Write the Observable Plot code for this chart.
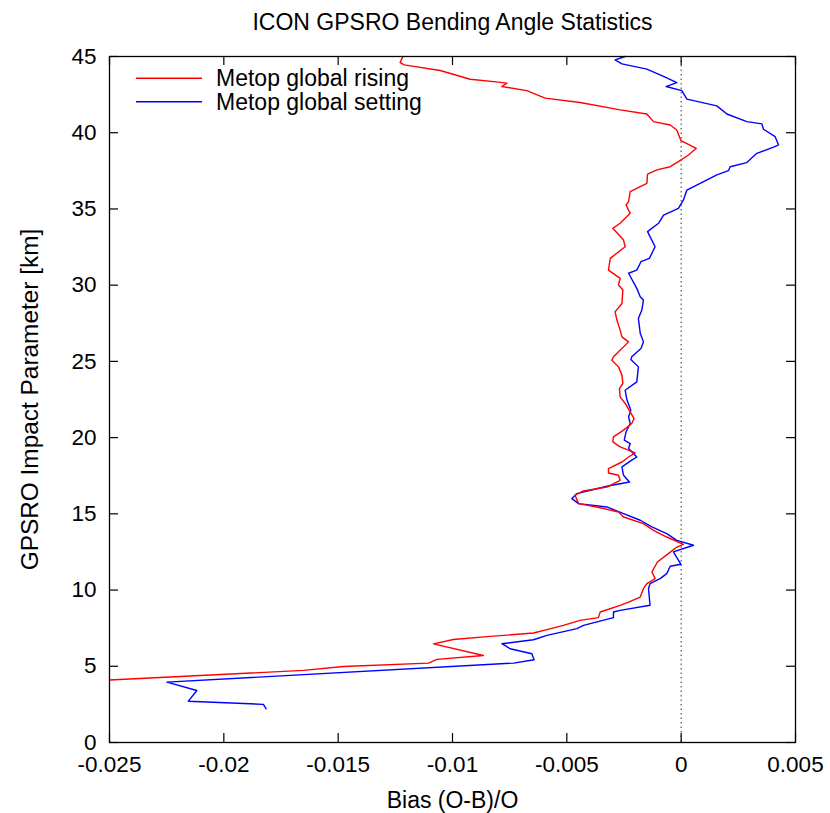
<!DOCTYPE html>
<html>
<head>
<meta charset="utf-8">
<script src="https://cdn.jsdelivr.net/npm/d3@7"></script>
<script src="https://cdn.jsdelivr.net/npm/@observablehq/plot@0.6"></script>
<style>
  html, body { margin: 0; padding: 0; background: #fff; }
  #chart svg { display: block; }
</style>
</head>
<body>
<div id="chart"></div>
<script>
// Series: Metop global rising (bias, impact parameter km)
const risingBias = [-0.01217,-0.01229,-0.01211,-0.01054,-0.00923,-0.00799,-0.00762,-0.00784,-0.00675,-0.00595,-0.00442,-0.00267,-0.00150,-0.00121,-0.00048,-0.00019,-0.00001,0.00066,0.00032,-0.00012,-0.00048,-0.00106,-0.00147,-0.00150,-0.00223,-0.00230,-0.00241,-0.00223,-0.00267,-0.00299,-0.00252,-0.00245,-0.00310,-0.00318,-0.00267,-0.00274,-0.00255,-0.00259,-0.00289,-0.00281,-0.00267,-0.00259,-0.00230,-0.00296,-0.00303,-0.00274,-0.00259,-0.00255,-0.00270,-0.00267,-0.00245,-0.00223,-0.00206,-0.00216,-0.00252,-0.00296,-0.00299,-0.00267,-0.00201,-0.00230,-0.00259,-0.00318,-0.00318,-0.00274,-0.00267,-0.00325,-0.00427,-0.00464,-0.00449,-0.00369,-0.00274,-0.00252,-0.00165,-0.00121,-0.00063,0.00010,-0.00019,-0.00056,-0.00104,-0.00128,-0.00114,-0.00150,-0.00165,-0.00179,-0.00230,-0.00267,-0.00354,-0.00362,-0.00442,-0.00515,-0.00587,-0.00646,-0.00835,-0.00996,-0.01083,-0.00865,-0.01068,-0.01105,-0.01477,-0.01652,-0.02500];
const risingHeight = [45.0,44.60,44.45,44.08,43.51,43.32,43.25,43.03,42.76,42.27,41.98,41.50,41.23,40.73,40.51,40.18,39.48,38.98,38.54,38.10,37.77,37.56,37.29,36.68,36.13,35.48,35.26,34.71,34.06,33.73,32.96,32.52,31.76,30.99,30.45,30.01,29.68,28.80,28.25,27.71,27.05,26.61,26.28,25.30,25.08,24.64,24.10,23.55,23.22,22.67,22.24,21.69,21.25,20.93,20.49,20.05,19.72,19.39,19.00,18.73,18.40,17.97,17.68,17.53,17.20,16.76,16.50,16.22,15.67,15.45,15.12,14.79,14.36,13.92,13.48,13.00,12.82,12.39,11.84,11.18,10.75,10.42,10.09,9.54,9.21,9.00,8.56,8.19,8.01,7.68,7.40,7.18,6.96,6.76,6.47,5.71,5.45,5.21,4.99,4.73,4.10];

// Series: Metop global setting
const settingBias = [-0.00245,-0.00289,-0.00259,-0.00150,-0.00070,-0.00019,-0.00066,0.00003,0.00025,0.00156,0.00200,0.00287,0.00353,0.00360,0.00411,0.00426,0.00404,0.00331,0.00287,0.00214,0.00207,0.00156,0.00083,0.00025,0.00010,-0.00012,-0.00077,-0.00099,-0.00147,-0.00114,-0.00139,-0.00176,-0.00194,-0.00230,-0.00194,-0.00179,-0.00165,-0.00172,-0.00187,-0.00179,-0.00165,-0.00176,-0.00216,-0.00220,-0.00187,-0.00194,-0.00245,-0.00237,-0.00220,-0.00230,-0.00223,-0.00241,-0.00249,-0.00223,-0.00230,-0.00194,-0.00216,-0.00259,-0.00252,-0.00226,-0.00325,-0.00456,-0.00478,-0.00449,-0.00325,-0.00252,-0.00179,-0.00128,-0.00063,-0.00019,0.00054,-0.00034,-0.00001,-0.00048,-0.00063,-0.00092,-0.00136,-0.00143,-0.00136,-0.00267,-0.00296,-0.00296,-0.00427,-0.00456,-0.00587,-0.00646,-0.00784,-0.00748,-0.00653,-0.00643,-0.00733,-0.02249,-0.02118,-0.02155,-0.01827,-0.01815];
const settingHeight = [45.0,44.78,44.52,44.17,43.64,43.29,43.03,42.76,42.20,41.76,41.23,40.73,40.58,40.23,39.74,39.20,39.05,38.65,38.04,37.77,37.51,37.23,36.68,36.24,35.59,35.04,34.60,34.06,33.51,32.52,31.76,31.54,30.99,30.78,29.79,29.24,29.02,28.37,27.82,26.84,26.28,25.85,25.30,25.13,24.64,23.66,23.11,22.46,21.80,21.36,20.93,20.37,19.83,19.61,19.28,18.73,18.52,18.08,17.53,17.09,16.81,16.33,16.00,15.67,15.45,15.02,14.58,14.14,13.70,13.26,12.94,12.50,11.69,11.56,11.08,10.75,10.42,10.09,9.00,8.67,8.56,8.19,7.68,7.47,7.03,6.74,6.48,6.15,5.82,5.43,5.21,3.96,3.41,2.71,2.50,2.21];

const seriesNames = ["Metop global rising", "Metop global setting"];
const seriesColors = ["#ff0000", "#0000ff"];
const xTicks = [-0.025, -0.02, -0.015, -0.01, -0.005, 0, 0.005];
const yTicks = [0, 5, 10, 15, 20, 25, 30, 35, 40, 45];
const titleText = "ICON GPSRO Bending Angle Statistics";
const xLabel = "Bias (O-B)/O";
const yLabel = "GPSRO Impact Parameter [km]";

const rising = risingBias.map((b, i) => ({bias: b, h: risingHeight[i]}));
const setting = settingBias.map((b, i) => ({bias: b, h: settingHeight[i]}));

const FONT = "'Liberation Sans', Arial, Helvetica, sans-serif";

const plot = Plot.plot({
  width: 830,
  height: 813,
  marginLeft: 109,
  marginRight: 35,
  marginTop: 56,
  marginBottom: 71,
  style: {fontFamily: FONT, fontSize: "22.5px", color: "black", background: "white"},
  x: {domain: [-0.025, 0.005], ticks: xTicks, tickSize: 0, tickPadding: 14, tickFormat: d => String(d), label: null},
  y: {domain: [0, 45], ticks: yTicks, tickSize: 0, tickPadding: 13, tickFormat: d => String(d), label: null},
  marks: [
    Plot.ruleX([0], {stroke: "#555", strokeDasharray: "1.5,3", strokeWidth: 1.2}),
    Plot.line(setting, {x: "bias", y: "h", stroke: seriesColors[1], strokeWidth: 1.4}),
    Plot.line(rising, {x: "bias", y: "h", stroke: seriesColors[0], strokeWidth: 1.4}),
    Plot.frame({stroke: "black", strokeWidth: 1.3}),
    Plot.ruleX(xTicks, {x: d => d, y1: 0, y2: 0, insetTop: -9, stroke: "black", strokeWidth: 1.2}),
    Plot.ruleX(xTicks, {x: d => d, y1: 45, y2: 45, insetBottom: -9, stroke: "black", strokeWidth: 1.2}),
    Plot.ruleY(yTicks, {y: d => d, x1: -0.025, x2: -0.025, insetRight: -9, stroke: "black", strokeWidth: 1.2}),
    Plot.ruleY(yTicks, {y: d => d, x1: 0.005, x2: 0.005, insetLeft: -9, stroke: "black", strokeWidth: 1.2}),
    Plot.text([titleText], {text: d => d, frameAnchor: "top", dy: -34, lineAnchor: "middle", textAnchor: "middle", fontSize: 23, fill: "black"}),
    Plot.text([xLabel], {text: d => d, frameAnchor: "bottom", dy: 58, lineAnchor: "middle", textAnchor: "middle", fontSize: 23, fill: "black"}),
    Plot.text([yLabel], {text: d => d, frameAnchor: "left", dx: -79, rotate: -90, lineAnchor: "middle", textAnchor: "middle", fontSize: 24.4, fill: "black"})
  ]
});

// Legend (key inside the frame, top-left)
const svg = d3.select(plot);
const lg = svg.append("g").attr("class", "legend");
seriesNames.forEach((name, i) => {
  const y = 78.3 + i * 23.4;
  lg.append("line").attr("x1", 136).attr("x2", 202).attr("y1", y).attr("y2", y)
    .attr("stroke", seriesColors[i]).attr("stroke-width", 1.4);
  lg.append("text").attr("x", 216).attr("y", y).attr("dy", "0.35em")
    .attr("text-anchor", "start")
    .attr("font-family", FONT).attr("font-size", 23).attr("fill", "black").text(name);
});

document.getElementById("chart").appendChild(plot);
</script>
</body>
</html>
